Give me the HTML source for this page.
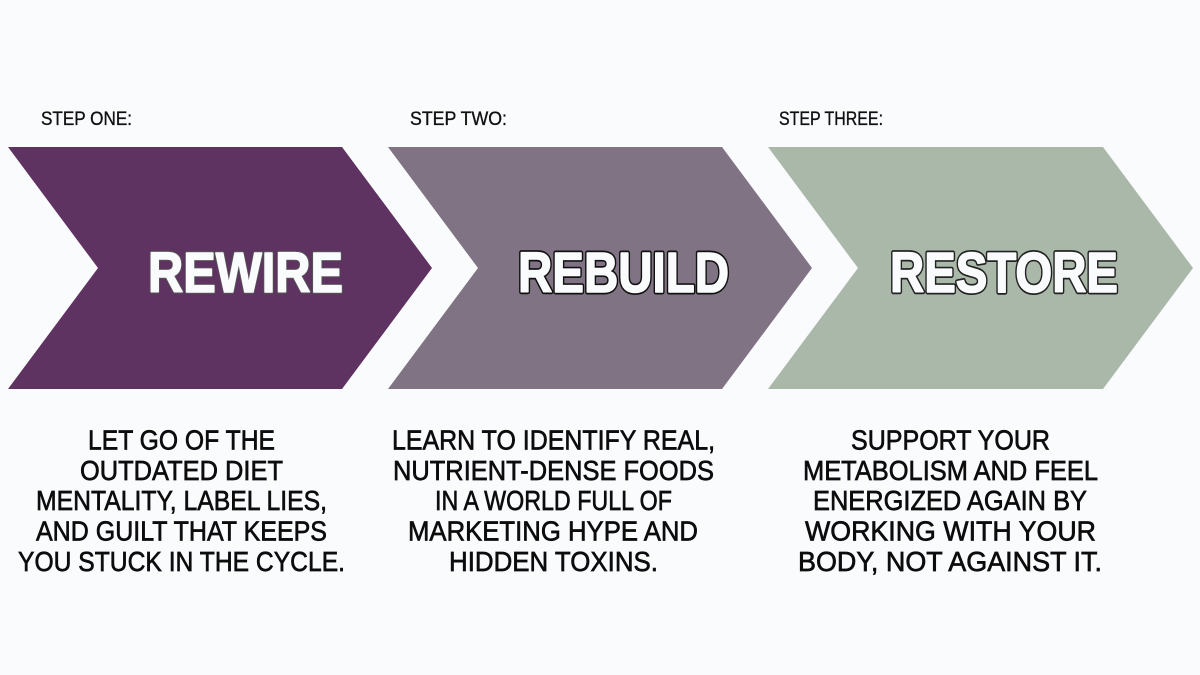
<!DOCTYPE html>
<html><head><meta charset="utf-8"><style>
html,body{margin:0;padding:0;background:#fafbfd}
svg{display:block}
text{font-family:"Liberation Sans",sans-serif}
.s{font-size:19px;fill:#111;stroke:#111;stroke-width:.35px}
.b{font-size:27.500px;fill:#0c0c0c;stroke:#0c0c0c;stroke-width:.65px}
.h{font-size:57px;font-weight:bold;stroke-linejoin:round}
.f{fill:#fafbfd;stroke:#fafbfd;stroke-width:1.600px}
</style></head><body>
<svg width="1200" height="675" viewBox="0 0 1200 675" xmlns="http://www.w3.org/2000/svg">
<rect width="1200" height="675" fill="#fafbfd"/>
<polygon points="8,147 342,147 432,268 342,389 8,389 98,268" fill="#5f3361"/>
<polygon points="388,147 722,147 812,268 722,389 388,389 478,268" fill="#807383"/>
<polygon points="768,147 1103,147 1193,268 1103,389 768,389 858,268" fill="#a9b8a9"/>
<text class="s" x="41" y="125" textLength="91" lengthAdjust="spacingAndGlyphs">STEP ONE:</text>
<text class="s" x="410" y="125" textLength="97" lengthAdjust="spacingAndGlyphs">STEP TWO:</text>
<text class="s" x="779" y="125" textLength="104" lengthAdjust="spacingAndGlyphs">STEP THREE:</text>
<text class="h" x="148" y="292" textLength="195" lengthAdjust="spacingAndGlyphs" fill="#555" stroke="#555" stroke-width="3.500">REWIRE</text>
<text class="h f" x="148" y="292" textLength="195" lengthAdjust="spacingAndGlyphs">REWIRE</text>
<text class="h" x="518" y="292" textLength="211" lengthAdjust="spacingAndGlyphs" fill="#111" stroke="#111" stroke-width="5">REBUILD</text>
<text class="h f" x="518" y="292" textLength="211" lengthAdjust="spacingAndGlyphs">REBUILD</text>
<text class="h" x="890" y="292" textLength="228" lengthAdjust="spacingAndGlyphs" fill="#222" stroke="#222" stroke-width="5">RESTORE</text>
<text class="h f" x="890" y="292" textLength="228" lengthAdjust="spacingAndGlyphs">RESTORE</text>
<text class="b" x="88" y="449.500" textLength="187" lengthAdjust="spacingAndGlyphs">LET GO OF THE</text>
<text class="b" x="80" y="480" textLength="203" lengthAdjust="spacingAndGlyphs">OUTDATED DIET</text>
<text class="b" x="36" y="510" textLength="291" lengthAdjust="spacingAndGlyphs">MENTALITY, LABEL LIES,</text>
<text class="b" x="36" y="540.500" textLength="291" lengthAdjust="spacingAndGlyphs">AND GUILT THAT KEEPS</text>
<text class="b" x="18" y="571" textLength="327" lengthAdjust="spacingAndGlyphs">YOU STUCK IN THE CYCLE.</text>
<text class="b" x="392" y="449.500" textLength="323" lengthAdjust="spacingAndGlyphs">LEARN TO IDENTIFY REAL,</text>
<text class="b" x="393" y="480" textLength="321" lengthAdjust="spacingAndGlyphs">NUTRIENT-DENSE FOODS</text>
<text class="b" x="435" y="510" textLength="237" lengthAdjust="spacingAndGlyphs">IN A WORLD FULL OF</text>
<text class="b" x="408" y="540.500" textLength="290" lengthAdjust="spacingAndGlyphs">MARKETING HYPE AND</text>
<text class="b" x="449" y="571" textLength="209" lengthAdjust="spacingAndGlyphs">HIDDEN TOXINS.</text>
<text class="b" x="851" y="449.500" textLength="199" lengthAdjust="spacingAndGlyphs">SUPPORT YOUR</text>
<text class="b" x="803" y="480" textLength="295" lengthAdjust="spacingAndGlyphs">METABOLISM AND FEEL</text>
<text class="b" x="813" y="510" textLength="274" lengthAdjust="spacingAndGlyphs">ENERGIZED AGAIN BY</text>
<text class="b" x="805" y="540.500" textLength="291" lengthAdjust="spacingAndGlyphs">WORKING WITH YOUR</text>
<text class="b" x="798" y="571" textLength="304" lengthAdjust="spacingAndGlyphs">BODY, NOT AGAINST IT.</text>
</svg>
</body></html>
